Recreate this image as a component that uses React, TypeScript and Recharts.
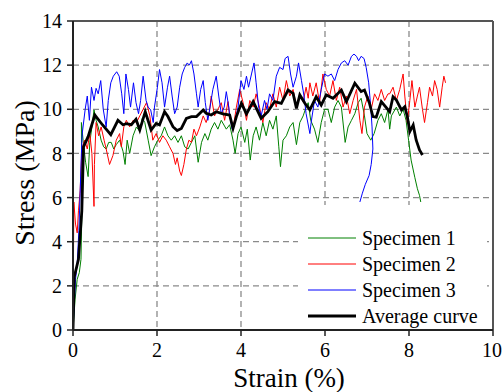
import React from 'react';
import { LineChart, Line, XAxis, YAxis, CartesianGrid, ReferenceLine, Legend, Label } from 'recharts';

const xTicks = [0, 2, 4, 6, 8, 10];
const yTicks = [0, 2, 4, 6, 8, 10, 12, 14];

const seriesNames = ['Specimen 1', 'Specimen 2', 'Specimen 3', 'Average curve'];

// [strain (%), stress (MPa)]
const specimen1: [number, number][] = [
  [0, 0], [0.05, 1.4], [0.1, 2.3], [0.15, 2.6], [0.19, 3.2], [0.21, 5.2], [0.2, 9.4], [0.24, 8.6], [0.3, 7.6], [0.36, 6.95],
  [0.4, 8.5], [0.45, 9.2], [0.5, 9.97], [0.55, 9.5], [0.6, 9.2], [0.67, 8.6], [0.73, 8.3], [0.79, 8.2], [0.85, 8.5], [0.91, 8.5],
  [0.97, 8.2], [1.03, 8.4], [1.11, 8.6], [1.19, 8.1], [1.24, 7.5], [1.29, 8.6], [1.35, 8.0], [1.43, 8.8], [1.51, 9.2], [1.59, 9.0],
  [1.65, 9.6], [1.71, 9.4], [1.79, 8.6], [1.86, 7.9], [1.94, 8.3], [2.02, 8.6], [2.1, 8.8], [2.18, 9.2], [2.26, 8.8], [2.34, 8.6],
  [2.42, 8.8], [2.5, 8.5], [2.58, 8.8], [2.66, 8.3], [2.74, 8.2], [2.82, 8.5], [2.9, 8.8], [2.98, 7.6], [3.06, 8.5], [3.14, 8.9],
  [3.21, 8.6], [3.29, 9.1], [3.37, 9.4], [3.45, 9.1], [3.53, 9.5], [3.65, 9.1], [3.73, 9.3], [3.81, 8.6], [3.86, 8.0], [3.93, 8.9],
  [4.0, 9.2], [4.09, 8.5], [4.15, 9.1], [4.22, 7.7], [4.29, 8.8], [4.36, 9.2], [4.44, 8.6], [4.52, 9.4], [4.6, 8.8], [4.68, 9.5],
  [4.76, 9.1], [4.84, 9.7], [4.9, 8.3], [4.94, 7.4], [5.0, 8.6], [5.08, 8.8], [5.16, 9.2], [5.24, 9.4], [5.32, 8.4], [5.4, 9.4],
  [5.48, 9.7], [5.55, 10.1], [5.6, 10.3], [5.66, 9.5], [5.75, 9.1], [5.83, 8.5], [5.91, 9.4], [5.99, 10.0], [6.07, 10.0], [6.15, 9.4],
  [6.23, 10.1], [6.31, 10.4], [6.39, 10.1], [6.48, 8.5], [6.55, 9.2], [6.63, 9.5], [6.71, 9.8], [6.79, 10.3], [6.86, 10.5], [6.94, 9.7],
  [7.0, 8.9], [7.09, 8.6], [7.17, 8.9], [7.26, 9.5], [7.34, 9.8], [7.42, 9.4], [7.5, 10.0], [7.54, 9.1], [7.58, 9.7], [7.7, 10.1],
  [7.78, 9.7], [7.86, 10.0], [7.93, 9.5], [7.99, 8.6], [8.05, 7.7], [8.14, 6.9], [8.2, 6.4], [8.25, 6.1], [8.28, 5.8],
];

const specimen2: [number, number][] = [
  [0, 0], [0.01, 2.8], [0.02, 5.8], [0.06, 4.8], [0.1, 4.4], [0.13, 5.4], [0.17, 6.3], [0.2, 7.7], [0.24, 8.4], [0.28, 8.6],
  [0.34, 8.2], [0.4, 8.9], [0.45, 8.0], [0.5, 5.6], [0.51, 7.5], [0.55, 9.4], [0.61, 8.8], [0.67, 9.2], [0.74, 8.6], [0.79, 8.2],
  [0.87, 7.5], [0.95, 7.9], [1.03, 8.6], [1.11, 8.9], [1.15, 8.3], [1.21, 9.2], [1.27, 9.5], [1.35, 9.2], [1.43, 9.5], [1.51, 9.4],
  [1.59, 9.7], [1.67, 10.0], [1.75, 10.3], [1.83, 9.7], [1.9, 8.6], [1.98, 8.9], [2.06, 8.5], [2.14, 8.8], [2.22, 8.6], [2.3, 8.3],
  [2.38, 8.0], [2.44, 7.5], [2.48, 7.8], [2.54, 7.2], [2.58, 7.0], [2.64, 7.5], [2.7, 8.2], [2.76, 8.6], [2.82, 8.5], [2.88, 9.1],
  [2.94, 8.8], [3.02, 9.2], [3.1, 9.7], [3.17, 9.4], [3.25, 9.9], [3.29, 10.6], [3.37, 9.7], [3.45, 10.0], [3.53, 10.3], [3.61, 9.5],
  [3.69, 10.35], [3.73, 9.7], [3.81, 9.1], [3.89, 10.1], [3.97, 10.9], [4.05, 10.3], [4.13, 9.5], [4.21, 10.4], [4.29, 10.1], [4.36, 10.7],
  [4.44, 10.1], [4.52, 9.4], [4.6, 10.3], [4.68, 10.0], [4.76, 10.7], [4.84, 10.1], [4.92, 11.0], [5.0, 10.4], [5.08, 11.3], [5.16, 10.6],
  [5.24, 10.9], [5.32, 10.1], [5.4, 10.7], [5.48, 10.35], [5.55, 11.0], [5.6, 10.5], [5.64, 11.2], [5.71, 10.6], [5.79, 11.2], [5.87, 10.3],
  [5.95, 11.6], [6.03, 10.9], [6.11, 10.6], [6.19, 11.3], [6.27, 10.4], [6.35, 11.0], [6.43, 10.1], [6.51, 10.6], [6.59, 9.8], [6.67, 10.4],
  [6.75, 10.9], [6.83, 9.5], [6.88, 8.9], [6.94, 10.1], [7.02, 10.6], [7.1, 10.0], [7.18, 10.7], [7.26, 10.4], [7.34, 10.9], [7.42, 10.4],
  [7.5, 10.7], [7.54, 10.7], [7.62, 11.0], [7.7, 10.4], [7.78, 10.9], [7.86, 11.6], [7.9, 10.6], [7.96, 9.4], [8.02, 10.4], [8.07, 11.3],
  [8.14, 10.1], [8.2, 10.6], [8.25, 11.0], [8.32, 10.0], [8.37, 9.4], [8.44, 10.3], [8.49, 11.0], [8.56, 10.6], [8.61, 11.3], [8.67, 10.9],
  [8.73, 10.1], [8.79, 11.0], [8.83, 11.5], [8.87, 11.2],
];

const specimen3: [number, number][] = [
  [0, 0], [0.03, 1.2], [0.06, 2.3], [0.1, 3.0], [0.14, 4.5], [0.17, 6.2], [0.2, 8.0], [0.22, 8.9], [0.29, 10.0], [0.34, 10.6],
  [0.39, 9.5], [0.44, 11.0], [0.5, 10.4], [0.55, 10.95], [0.6, 10.7], [0.66, 11.3], [0.72, 10.0], [0.79, 9.2], [0.84, 10.4], [0.9, 11.2],
  [0.96, 11.5], [1.04, 11.7], [1.1, 11.5], [1.16, 10.7], [1.21, 9.8], [1.26, 11.6], [1.32, 10.9], [1.37, 10.1], [1.44, 11.2], [1.5, 10.3],
  [1.56, 9.8], [1.61, 10.4], [1.67, 11.5], [1.74, 10.4], [1.79, 10.1], [1.85, 9.97], [1.91, 9.4], [1.94, 10.1], [2.01, 11.0], [2.06, 11.8],
  [2.12, 11.2], [2.18, 10.1], [2.25, 11.0], [2.3, 11.5], [2.36, 10.6], [2.42, 9.8], [2.48, 10.1], [2.54, 11.0], [2.6, 11.6], [2.66, 11.9],
  [2.72, 12.1], [2.77, 12.0], [2.82, 12.2], [2.88, 11.6], [2.94, 10.7], [2.98, 10.1], [3.04, 10.9], [3.1, 11.3], [3.15, 10.3], [3.21, 9.5],
  [3.28, 10.3], [3.33, 10.9], [3.41, 11.5], [3.47, 10.6], [3.53, 9.8], [3.6, 10.1], [3.65, 10.8], [3.71, 10.1], [3.73, 9.7], [3.79, 9.1],
  [3.85, 9.4], [3.93, 10.1], [4.0, 11.3], [4.07, 10.9], [4.13, 11.5], [4.18, 11.0], [4.25, 11.6], [4.31, 12.1], [4.36, 11.2], [4.42, 10.1],
  [4.48, 9.7], [4.56, 10.4], [4.62, 10.0], [4.68, 10.7], [4.76, 10.4], [4.84, 11.5], [4.92, 11.9], [5.0, 11.8], [5.05, 12.3], [5.12, 12.4],
  [5.18, 11.6], [5.24, 11.0], [5.32, 11.5], [5.37, 12.1], [5.44, 11.3], [5.5, 10.6], [5.55, 9.8], [5.61, 9.2], [5.64, 8.9], [5.67, 9.4],
  [5.75, 10.4], [5.83, 10.1], [5.91, 10.9], [5.99, 11.6], [6.07, 11.5], [6.15, 11.6], [6.23, 11.3], [6.31, 11.8], [6.39, 12.1], [6.47, 12.2],
  [6.55, 12.0], [6.63, 12.4], [6.69, 12.5], [6.75, 12.4], [6.8, 12.2], [6.86, 12.4], [6.93, 12.3], [6.98, 11.9], [7.04, 11.2], [7.09, 10.1],
  [7.12, 9.2], [7.14, 8.2], [7.1, 7.5], [7.05, 7.0], [6.96, 6.6], [6.89, 6.2], [6.83, 5.8],
];

const averageCurve: [number, number][] = [
  [0, 0], [0.03, 2.4], [0.13, 3.2], [0.21, 5.4], [0.25, 8.3], [0.36, 8.76], [0.52, 9.74], [0.7, 9.3], [0.9, 8.85], [1.07, 9.5],
  [1.19, 9.3], [1.27, 9.35], [1.39, 9.3], [1.5, 9.55], [1.59, 9.06], [1.72, 9.89], [1.86, 9.06], [1.98, 9.36], [2.06, 9.29], [2.18, 9.89],
  [2.26, 9.67], [2.38, 9.21], [2.48, 9.04], [2.58, 9.13], [2.7, 9.59], [2.82, 9.67], [2.94, 9.67], [3.1, 9.97], [3.17, 9.82], [3.29, 9.74],
  [3.41, 9.89], [3.57, 9.79], [3.73, 9.74], [3.81, 9.14], [3.89, 9.67], [4.01, 10.27], [4.13, 9.79], [4.29, 10.35], [4.48, 9.59], [4.64, 9.89],
  [4.8, 10.35], [4.96, 10.27], [5.12, 10.87], [5.24, 10.72], [5.32, 10.04], [5.4, 10.65], [5.52, 10.27], [5.64, 9.97], [5.79, 10.57], [5.91, 10.19],
  [6.03, 10.65], [6.19, 10.5], [6.39, 10.87], [6.51, 10.35], [6.71, 11.18], [6.86, 10.8], [6.94, 10.87], [7.06, 10.27], [7.14, 9.67], [7.22, 9.64],
  [7.34, 10.35], [7.54, 9.89], [7.62, 10.57], [7.7, 10.42], [7.82, 9.97], [7.9, 10.12], [7.96, 9.67], [8.02, 8.99], [8.1, 9.29], [8.17, 8.61],
  [8.25, 8.16], [8.32, 7.93],
];

const toPoints = (arr: [number, number][]) => arr.map(([x, y]) => ({ x, y }));

const colors = ['#008000', '#ff0000', '#0000ff', '#000000'];
const widths = [1, 1, 1, 2.8];
const serif = '"Liberation Serif", "Times New Roman", serif';

const renderLegend = (props: any) => {
  const payload = [...(props.payload || [])].sort(
    (a: any, b: any) => seriesNames.indexOf(a.value) - seriesNames.indexOf(b.value)
  );
  return (
    <div style={{ background: '#fff', width: 189, height: 124, paddingTop: 20, boxSizing: 'border-box' }}>
      {payload.map((entry: any) => {
        const idx = seriesNames.indexOf(entry.value);
        return (
          <div key={entry.value} style={{ display: 'flex', alignItems: 'center', height: 26 }}>
            <svg width={58} height={26} style={{ display: 'block', flex: 'none' }}>
              <line x1={10} x2={58} y1={13} y2={13} stroke={entry.color} strokeWidth={widths[idx] ?? 1} />
            </svg>
            <span style={{ fontFamily: serif, fontSize: 20, marginLeft: 6, lineHeight: '26px', color: '#000', whiteSpace: 'nowrap' }}>
              {entry.value}
            </span>
          </div>
        );
      })}
    </div>
  );
};

const series = [specimen1, specimen2, specimen3, averageCurve];

export default function App() {
  return (
    <div style={{ position: 'absolute', left: 0, top: 0, width: 502, height: 392, background: '#fff' }}>
      <LineChart width={502} height={392} margin={{ top: 21, right: 9, bottom: 0, left: 13 }}>
        <CartesianGrid stroke="#8a8a8a" strokeDasharray="6 4" strokeWidth={1.3} />
        <XAxis
          type="number"
          dataKey="x"
          domain={[0, 10]}
          ticks={xTicks}
          allowDataOverflow
          height={62}
          axisLine={{ stroke: '#222', strokeWidth: 2 }}
          tickLine={{ stroke: '#222', strokeWidth: 1.5 }}
          tickSize={6}
          tickMargin={7}
          tick={{ fontSize: 20, fill: '#000', fontFamily: serif }}
        >
          <Label
            content={() => (
              <text x={289} y={387} textAnchor="middle" fontSize={27} fontFamily={serif} fill="#000">
                Strain (%)
              </text>
            )}
          />
        </XAxis>
        <YAxis
          type="number"
          domain={[0, 14]}
          ticks={yTicks}
          allowDataOverflow
          width={60}
          axisLine={{ stroke: '#222', strokeWidth: 2 }}
          tickLine={{ stroke: '#222', strokeWidth: 1.5 }}
          tickSize={6}
          tickMargin={5}
          tick={{ fontSize: 20, fill: '#000', fontFamily: serif }}
        >
          <Label
            content={() => (
              <text x={34} y={173} transform="rotate(-90, 34, 173)" textAnchor="middle" fontSize={28} fontFamily={serif} fill="#000">
                Stress (MPa)
              </text>
            )}
          />
        </YAxis>
        <ReferenceLine y={14} stroke="#555" strokeWidth={2} />
        <ReferenceLine x={10} stroke="#555" strokeWidth={2} />
        {series.map((s, i) => (
          <Line
            key={seriesNames[i]}
            name={seriesNames[i]}
            data={toPoints(s)}
            dataKey="y"
            type="linear"
            stroke={colors[i]}
            strokeWidth={widths[i]}
            dot={false}
            activeDot={false}
            isAnimationActive={false}
          />
        ))}
        <Legend
          layout="vertical"
          align="center"
          verticalAlign="middle"
          content={renderLegend}
          wrapperStyle={{ position: 'absolute', left: 298, top: 205, width: 189, height: 124, margin: 0 }}
        />
      </LineChart>
    </div>
  );
}
